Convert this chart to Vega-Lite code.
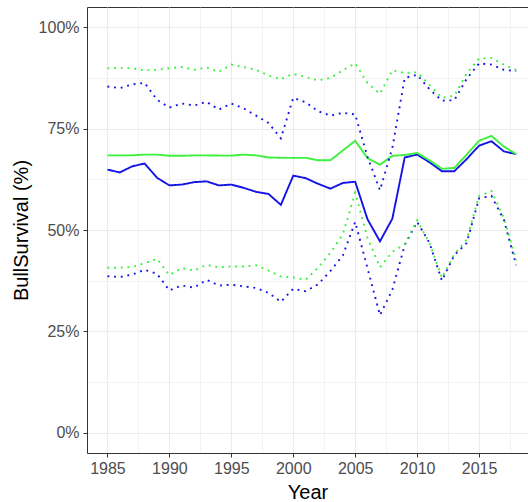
{
  "$schema": "https://vega.github.io/schema/vega-lite/v6.json",
  "autosize": {"type": "none"},
  "padding": {"left": 87, "top": 7, "right": 0, "bottom": 49},
  "width": 441,
  "height": 446,
  "background": "white",
  "config": {
    "font": "Liberation Sans",
    "view": {"stroke": "#333333", "strokeWidth": 1, "strokeDash": [441, 3000]},
    "axis": {
      "labelFont": "Liberation Sans",
      "titleFont": "Liberation Sans",
      "labelFontSize": 16,
      "labelColor": "#4d4d4d",
      "titleFontSize": 20,
      "titleFontWeight": "normal",
      "titleColor": "#000000",
      "tickColor": "#333333",
      "tickSize": 4,
      "tickWidth": 1,
      "domainColor": "#333333",
      "domainWidth": 1,
      "gridColor": "#ebebeb"
    }
  },
  "data": {"values": [
    {"Year":1985,"Series":"Blue","Band":"Estimate","Survival":0.649},
    {"Year":1986,"Series":"Blue","Band":"Estimate","Survival":0.642},
    {"Year":1987,"Series":"Blue","Band":"Estimate","Survival":0.657},
    {"Year":1988,"Series":"Blue","Band":"Estimate","Survival":0.664},
    {"Year":1989,"Series":"Blue","Band":"Estimate","Survival":0.629},
    {"Year":1990,"Series":"Blue","Band":"Estimate","Survival":0.610},
    {"Year":1991,"Series":"Blue","Band":"Estimate","Survival":0.612},
    {"Year":1992,"Series":"Blue","Band":"Estimate","Survival":0.618},
    {"Year":1993,"Series":"Blue","Band":"Estimate","Survival":0.620},
    {"Year":1994,"Series":"Blue","Band":"Estimate","Survival":0.610},
    {"Year":1995,"Series":"Blue","Band":"Estimate","Survival":0.612},
    {"Year":1996,"Series":"Blue","Band":"Estimate","Survival":0.604},
    {"Year":1997,"Series":"Blue","Band":"Estimate","Survival":0.594},
    {"Year":1998,"Series":"Blue","Band":"Estimate","Survival":0.589},
    {"Year":1999,"Series":"Blue","Band":"Estimate","Survival":0.562},
    {"Year":2000,"Series":"Blue","Band":"Estimate","Survival":0.634},
    {"Year":2001,"Series":"Blue","Band":"Estimate","Survival":0.628},
    {"Year":2002,"Series":"Blue","Band":"Estimate","Survival":0.614},
    {"Year":2003,"Series":"Blue","Band":"Estimate","Survival":0.602},
    {"Year":2004,"Series":"Blue","Band":"Estimate","Survival":0.616},
    {"Year":2005,"Series":"Blue","Band":"Estimate","Survival":0.619},
    {"Year":2006,"Series":"Blue","Band":"Estimate","Survival":0.526},
    {"Year":2007,"Series":"Blue","Band":"Estimate","Survival":0.472},
    {"Year":2008,"Series":"Blue","Band":"Estimate","Survival":0.528},
    {"Year":2009,"Series":"Blue","Band":"Estimate","Survival":0.679},
    {"Year":2010,"Series":"Blue","Band":"Estimate","Survival":0.686},
    {"Year":2011,"Series":"Blue","Band":"Estimate","Survival":0.667},
    {"Year":2012,"Series":"Blue","Band":"Estimate","Survival":0.645},
    {"Year":2013,"Series":"Blue","Band":"Estimate","Survival":0.645},
    {"Year":2014,"Series":"Blue","Band":"Estimate","Survival":0.675},
    {"Year":2015,"Series":"Blue","Band":"Estimate","Survival":0.708},
    {"Year":2016,"Series":"Blue","Band":"Estimate","Survival":0.719},
    {"Year":2017,"Series":"Blue","Band":"Estimate","Survival":0.694},
    {"Year":2018,"Series":"Blue","Band":"Estimate","Survival":0.687},

    {"Year":1985,"Series":"Green","Band":"Estimate","Survival":0.684},
    {"Year":1986,"Series":"Green","Band":"Estimate","Survival":0.684},
    {"Year":1987,"Series":"Green","Band":"Estimate","Survival":0.684},
    {"Year":1988,"Series":"Green","Band":"Estimate","Survival":0.686},
    {"Year":1989,"Series":"Green","Band":"Estimate","Survival":0.686},
    {"Year":1990,"Series":"Green","Band":"Estimate","Survival":0.683},
    {"Year":1991,"Series":"Green","Band":"Estimate","Survival":0.683},
    {"Year":1992,"Series":"Green","Band":"Estimate","Survival":0.684},
    {"Year":1993,"Series":"Green","Band":"Estimate","Survival":0.684},
    {"Year":1994,"Series":"Green","Band":"Estimate","Survival":0.6835},
    {"Year":1995,"Series":"Green","Band":"Estimate","Survival":0.6835},
    {"Year":1996,"Series":"Green","Band":"Estimate","Survival":0.686},
    {"Year":1997,"Series":"Green","Band":"Estimate","Survival":0.684},
    {"Year":1998,"Series":"Green","Band":"Estimate","Survival":0.679},
    {"Year":1999,"Series":"Green","Band":"Estimate","Survival":0.678},
    {"Year":2000,"Series":"Green","Band":"Estimate","Survival":0.678},
    {"Year":2001,"Series":"Green","Band":"Estimate","Survival":0.678},
    {"Year":2002,"Series":"Green","Band":"Estimate","Survival":0.672},
    {"Year":2003,"Series":"Green","Band":"Estimate","Survival":0.672},
    {"Year":2004,"Series":"Green","Band":"Estimate","Survival":0.696},
    {"Year":2005,"Series":"Green","Band":"Estimate","Survival":0.720},
    {"Year":2006,"Series":"Green","Band":"Estimate","Survival":0.677},
    {"Year":2007,"Series":"Green","Band":"Estimate","Survival":0.661},
    {"Year":2008,"Series":"Green","Band":"Estimate","Survival":0.683},
    {"Year":2009,"Series":"Green","Band":"Estimate","Survival":0.685},
    {"Year":2010,"Series":"Green","Band":"Estimate","Survival":0.690},
    {"Year":2011,"Series":"Green","Band":"Estimate","Survival":0.672},
    {"Year":2012,"Series":"Green","Band":"Estimate","Survival":0.651},
    {"Year":2013,"Series":"Green","Band":"Estimate","Survival":0.653},
    {"Year":2014,"Series":"Green","Band":"Estimate","Survival":0.686},
    {"Year":2015,"Series":"Green","Band":"Estimate","Survival":0.720},
    {"Year":2016,"Series":"Green","Band":"Estimate","Survival":0.732},
    {"Year":2017,"Series":"Green","Band":"Estimate","Survival":0.706},
    {"Year":2018,"Series":"Green","Band":"Estimate","Survival":0.687},

    {"Year":1985,"Series":"Blue","Band":"Upper","Survival":0.854},
    {"Year":1986,"Series":"Blue","Band":"Upper","Survival":0.850},
    {"Year":1987,"Series":"Blue","Band":"Upper","Survival":0.859},
    {"Year":1988,"Series":"Blue","Band":"Upper","Survival":0.863},
    {"Year":1989,"Series":"Blue","Band":"Upper","Survival":0.821},
    {"Year":1990,"Series":"Blue","Band":"Upper","Survival":0.802},
    {"Year":1991,"Series":"Blue","Band":"Upper","Survival":0.812},
    {"Year":1992,"Series":"Blue","Band":"Upper","Survival":0.807},
    {"Year":1993,"Series":"Blue","Band":"Upper","Survival":0.816},
    {"Year":1994,"Series":"Blue","Band":"Upper","Survival":0.797},
    {"Year":1995,"Series":"Blue","Band":"Upper","Survival":0.812},
    {"Year":1996,"Series":"Blue","Band":"Upper","Survival":0.800},
    {"Year":1997,"Series":"Blue","Band":"Upper","Survival":0.782},
    {"Year":1998,"Series":"Blue","Band":"Upper","Survival":0.764},
    {"Year":1999,"Series":"Blue","Band":"Upper","Survival":0.726},
    {"Year":2000,"Series":"Blue","Band":"Upper","Survival":0.826},
    {"Year":2001,"Series":"Blue","Band":"Upper","Survival":0.815},
    {"Year":2002,"Series":"Blue","Band":"Upper","Survival":0.793},
    {"Year":2003,"Series":"Blue","Band":"Upper","Survival":0.782},
    {"Year":2004,"Series":"Blue","Band":"Upper","Survival":0.789},
    {"Year":2005,"Series":"Blue","Band":"Upper","Survival":0.785},
    {"Year":2006,"Series":"Blue","Band":"Upper","Survival":0.680},
    {"Year":2007,"Series":"Blue","Band":"Upper","Survival":0.598},
    {"Year":2008,"Series":"Blue","Band":"Upper","Survival":0.703},
    {"Year":2009,"Series":"Blue","Band":"Upper","Survival":0.875},
    {"Year":2010,"Series":"Blue","Band":"Upper","Survival":0.883},
    {"Year":2011,"Series":"Blue","Band":"Upper","Survival":0.847},
    {"Year":2012,"Series":"Blue","Band":"Upper","Survival":0.819},
    {"Year":2013,"Series":"Blue","Band":"Upper","Survival":0.820},
    {"Year":2014,"Series":"Blue","Band":"Upper","Survival":0.873},
    {"Year":2015,"Series":"Blue","Band":"Upper","Survival":0.911},
    {"Year":2016,"Series":"Blue","Band":"Upper","Survival":0.908},
    {"Year":2017,"Series":"Blue","Band":"Upper","Survival":0.895},
    {"Year":2018,"Series":"Blue","Band":"Upper","Survival":0.892},

    {"Year":1985,"Series":"Green","Band":"Upper","Survival":0.899},
    {"Year":1986,"Series":"Green","Band":"Upper","Survival":0.900},
    {"Year":1987,"Series":"Green","Band":"Upper","Survival":0.899},
    {"Year":1988,"Series":"Green","Band":"Upper","Survival":0.894},
    {"Year":1989,"Series":"Green","Band":"Upper","Survival":0.895},
    {"Year":1990,"Series":"Green","Band":"Upper","Survival":0.899},
    {"Year":1991,"Series":"Green","Band":"Upper","Survival":0.902},
    {"Year":1992,"Series":"Green","Band":"Upper","Survival":0.895},
    {"Year":1993,"Series":"Green","Band":"Upper","Survival":0.901},
    {"Year":1994,"Series":"Green","Band":"Upper","Survival":0.890},
    {"Year":1995,"Series":"Green","Band":"Upper","Survival":0.908},
    {"Year":1996,"Series":"Green","Band":"Upper","Survival":0.902},
    {"Year":1997,"Series":"Green","Band":"Upper","Survival":0.895},
    {"Year":1998,"Series":"Green","Band":"Upper","Survival":0.881},
    {"Year":1999,"Series":"Green","Band":"Upper","Survival":0.872},
    {"Year":2000,"Series":"Green","Band":"Upper","Survival":0.885},
    {"Year":2001,"Series":"Green","Band":"Upper","Survival":0.877},
    {"Year":2002,"Series":"Green","Band":"Upper","Survival":0.869},
    {"Year":2003,"Series":"Green","Band":"Upper","Survival":0.875},
    {"Year":2004,"Series":"Green","Band":"Upper","Survival":0.894},
    {"Year":2005,"Series":"Green","Band":"Upper","Survival":0.911},
    {"Year":2006,"Series":"Green","Band":"Upper","Survival":0.862},
    {"Year":2007,"Series":"Green","Band":"Upper","Survival":0.836},
    {"Year":2008,"Series":"Green","Band":"Upper","Survival":0.894},
    {"Year":2009,"Series":"Green","Band":"Upper","Survival":0.887},
    {"Year":2010,"Series":"Green","Band":"Upper","Survival":0.889},
    {"Year":2011,"Series":"Green","Band":"Upper","Survival":0.858},
    {"Year":2012,"Series":"Green","Band":"Upper","Survival":0.826},
    {"Year":2013,"Series":"Green","Band":"Upper","Survival":0.831},
    {"Year":2014,"Series":"Green","Band":"Upper","Survival":0.886},
    {"Year":2015,"Series":"Green","Band":"Upper","Survival":0.923},
    {"Year":2016,"Series":"Green","Band":"Upper","Survival":0.924},
    {"Year":2017,"Series":"Green","Band":"Upper","Survival":0.908},
    {"Year":2018,"Series":"Green","Band":"Upper","Survival":0.895},

    {"Year":1985,"Series":"Blue","Band":"Lower","Survival":0.386},
    {"Year":1986,"Series":"Blue","Band":"Lower","Survival":0.384},
    {"Year":1987,"Series":"Blue","Band":"Lower","Survival":0.390},
    {"Year":1988,"Series":"Blue","Band":"Lower","Survival":0.402},
    {"Year":1989,"Series":"Blue","Band":"Lower","Survival":0.392},
    {"Year":1990,"Series":"Blue","Band":"Lower","Survival":0.351},
    {"Year":1991,"Series":"Blue","Band":"Lower","Survival":0.363},
    {"Year":1992,"Series":"Blue","Band":"Lower","Survival":0.358},
    {"Year":1993,"Series":"Blue","Band":"Lower","Survival":0.377},
    {"Year":1994,"Series":"Blue","Band":"Lower","Survival":0.363},
    {"Year":1995,"Series":"Blue","Band":"Lower","Survival":0.365},
    {"Year":1996,"Series":"Blue","Band":"Lower","Survival":0.361},
    {"Year":1997,"Series":"Blue","Band":"Lower","Survival":0.357},
    {"Year":1998,"Series":"Blue","Band":"Lower","Survival":0.345},
    {"Year":1999,"Series":"Blue","Band":"Lower","Survival":0.323},
    {"Year":2000,"Series":"Blue","Band":"Lower","Survival":0.355},
    {"Year":2001,"Series":"Blue","Band":"Lower","Survival":0.349},
    {"Year":2002,"Series":"Blue","Band":"Lower","Survival":0.366},
    {"Year":2003,"Series":"Blue","Band":"Lower","Survival":0.399},
    {"Year":2004,"Series":"Blue","Band":"Lower","Survival":0.437},
    {"Year":2005,"Series":"Blue","Band":"Lower","Survival":0.520},
    {"Year":2006,"Series":"Blue","Band":"Lower","Survival":0.405},
    {"Year":2007,"Series":"Blue","Band":"Lower","Survival":0.290},
    {"Year":2008,"Series":"Blue","Band":"Lower","Survival":0.353},
    {"Year":2009,"Series":"Blue","Band":"Lower","Survival":0.463},
    {"Year":2010,"Series":"Blue","Band":"Lower","Survival":0.520},
    {"Year":2011,"Series":"Blue","Band":"Lower","Survival":0.468},
    {"Year":2012,"Series":"Blue","Band":"Lower","Survival":0.375},
    {"Year":2013,"Series":"Blue","Band":"Lower","Survival":0.438},
    {"Year":2014,"Series":"Blue","Band":"Lower","Survival":0.468},
    {"Year":2015,"Series":"Blue","Band":"Lower","Survival":0.578},
    {"Year":2016,"Series":"Blue","Band":"Lower","Survival":0.584},
    {"Year":2017,"Series":"Blue","Band":"Lower","Survival":0.525},
    {"Year":2018,"Series":"Blue","Band":"Lower","Survival":0.413},

    {"Year":1985,"Series":"Green","Band":"Lower","Survival":0.407},
    {"Year":1986,"Series":"Green","Band":"Lower","Survival":0.407},
    {"Year":1987,"Series":"Green","Band":"Lower","Survival":0.409},
    {"Year":1988,"Series":"Green","Band":"Lower","Survival":0.418},
    {"Year":1989,"Series":"Green","Band":"Lower","Survival":0.429},
    {"Year":1990,"Series":"Green","Band":"Lower","Survival":0.389},
    {"Year":1991,"Series":"Green","Band":"Lower","Survival":0.406},
    {"Year":1992,"Series":"Green","Band":"Lower","Survival":0.400},
    {"Year":1993,"Series":"Green","Band":"Lower","Survival":0.414},
    {"Year":1994,"Series":"Green","Band":"Lower","Survival":0.408},
    {"Year":1995,"Series":"Green","Band":"Lower","Survival":0.410},
    {"Year":1996,"Series":"Green","Band":"Lower","Survival":0.410},
    {"Year":1997,"Series":"Green","Band":"Lower","Survival":0.413},
    {"Year":1998,"Series":"Green","Band":"Lower","Survival":0.400},
    {"Year":1999,"Series":"Green","Band":"Lower","Survival":0.385},
    {"Year":2000,"Series":"Green","Band":"Lower","Survival":0.383},
    {"Year":2001,"Series":"Green","Band":"Lower","Survival":0.377},
    {"Year":2002,"Series":"Green","Band":"Lower","Survival":0.407},
    {"Year":2003,"Series":"Green","Band":"Lower","Survival":0.444},
    {"Year":2004,"Series":"Green","Band":"Lower","Survival":0.489},
    {"Year":2005,"Series":"Green","Band":"Lower","Survival":0.592},
    {"Year":2006,"Series":"Green","Band":"Lower","Survival":0.480},
    {"Year":2007,"Series":"Green","Band":"Lower","Survival":0.408},
    {"Year":2008,"Series":"Green","Band":"Lower","Survival":0.446},
    {"Year":2009,"Series":"Green","Band":"Lower","Survival":0.465},
    {"Year":2010,"Series":"Green","Band":"Lower","Survival":0.524},
    {"Year":2011,"Series":"Green","Band":"Lower","Survival":0.468},
    {"Year":2012,"Series":"Green","Band":"Lower","Survival":0.382},
    {"Year":2013,"Series":"Green","Band":"Lower","Survival":0.440},
    {"Year":2014,"Series":"Green","Band":"Lower","Survival":0.476},
    {"Year":2015,"Series":"Green","Band":"Lower","Survival":0.584},
    {"Year":2016,"Series":"Green","Band":"Lower","Survival":0.596},
    {"Year":2017,"Series":"Green","Band":"Lower","Survival":0.530},
    {"Year":2018,"Series":"Green","Band":"Lower","Survival":0.425}
  ]},
  "mark": {"type": "line", "strokeWidth": 1.9, "clip": true},
  "encoding": {
    "x": {
      "field": "Year",
      "type": "quantitative",
      "scale": {"domain": [1983.35, 2018.95], "nice": false, "zero": false},
      "axis": {
        "title": "Year",
        "values": [1982.5, 1985, 1987.5, 1990, 1992.5, 1995, 1997.5, 2000, 2002.5, 2005, 2007.5, 2010, 2012.5, 2015, 2017.5],
        "format": "d",
        "labelExpr": "datum.value % 5 == 0 ? datum.label : ''",
        "tickOpacity": {"condition": {"test": "datum.value % 5 == 0", "value": 1}, "value": 0},
        "gridWidth": {"condition": {"test": "datum.value % 5 == 0", "value": 1.1}, "value": 0.6},
        "labelPadding": 3,
        "titlePadding": 6,
        "labelFlush": false,
        "labelOverlap": false
      }
    },
    "y": {
      "field": "Survival",
      "type": "quantitative",
      "scale": {"domain": [-0.05, 1.05], "nice": false, "zero": false},
      "axis": {
        "title": "BullSurvival (%)",
        "values": [0, 0.125, 0.25, 0.375, 0.5, 0.625, 0.75, 0.875, 1],
        "format": ".0%",
        "labelExpr": "(datum.value * 4) % 1 == 0 ? datum.label : ''",
        "tickOpacity": {"condition": {"test": "(datum.value * 4) % 1 == 0", "value": 1}, "value": 0},
        "gridWidth": {"condition": {"test": "(datum.value * 4) % 1 == 0", "value": 1.1}, "value": 0.6},
        "labelPadding": 4,
        "titlePadding": 7,
        "labelFlush": false,
        "labelOverlap": false
      }
    },
    "color": {
      "field": "Series",
      "type": "nominal",
      "scale": {"domain": ["Blue", "Green"], "range": ["#1414e6", "#3cf03c"]},
      "legend": null
    },
    "strokeDash": {
      "field": "Band",
      "type": "nominal",
      "scale": {"domain": ["Estimate", "Upper", "Lower"], "range": [[1, 0], [1.9, 4.8], [1.9, 4.8]]},
      "legend": null
    },
    "order": {"field": "Year"}
  }
}
